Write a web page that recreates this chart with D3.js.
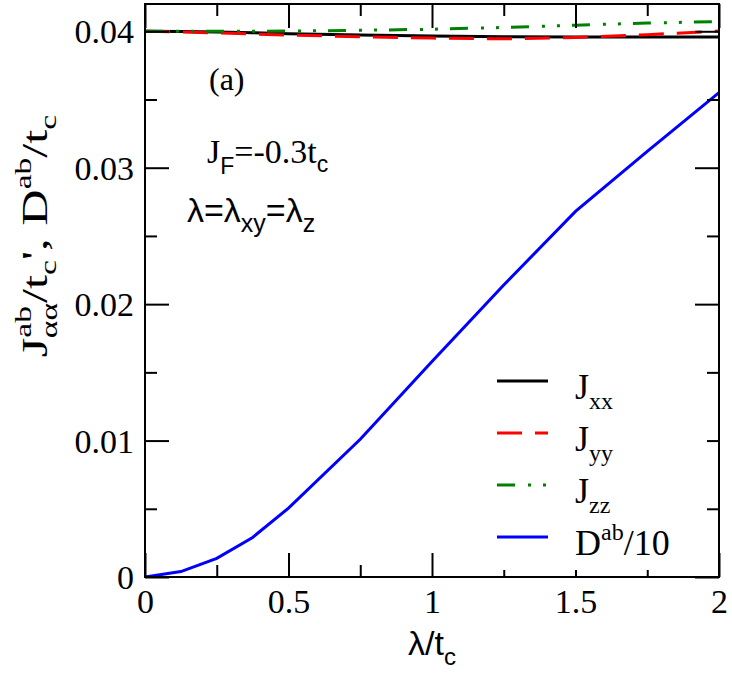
<!DOCTYPE html>
<html>
<head>
<meta charset="utf-8">
<script src="https://cdn.jsdelivr.net/npm/d3@7"></script>
<style>
body { margin: 0; background: #fff; }
</style>
</head>
<body>
<div id="chart"></div>
<script>
// lambda / t_c grid
var lambdaVals = [0, 0.125, 0.25, 0.375, 0.5, 0.75, 1.0, 1.25, 1.5, 1.75, 2.0];
// exchange couplings
var jxx = [0.0400, 0.03999, 0.03995, 0.03990, 0.03982, 0.03972, 0.03965, 0.03960, 0.03958, 0.03958, 0.03958];
var jyy = [0.0400, 0.03995, 0.03988, 0.03980, 0.03972, 0.03960, 0.03950, 0.03945, 0.03955, 0.03975, 0.04002];
var jzz = [0.0400, 0.04000, 0.04000, 0.04000, 0.04002, 0.04007, 0.04015, 0.04028, 0.04045, 0.04060, 0.04072];
// DM term divided by 10
var dab10 = [0, 0.0004, 0.00137, 0.0029, 0.00505, 0.0101, 0.0158, 0.0214, 0.0268, 0.0312, 0.0355];

var xMajor = [0, 0.5, 1, 1.5, 2];
var xMinor = [0.25, 0.75, 1.25, 1.75];
var yMajor = [0, 0.01, 0.02, 0.03, 0.04];
var yMinor = [0.005, 0.015, 0.025, 0.035];
var xLabels = ["0", "0.5", "1", "1.5", "2"];
var yLabels = ["0", "0.01", "0.02", "0.03", "0.04"];

var W = 732, H = 673;
var pL = 145, pR = 719, pT = 4, pB = 577;

var svg = d3.select("#chart").append("svg")
    .attr("width", W).attr("height", H)
    .style("font-family", "'Liberation Serif', 'Times New Roman', serif");

var x = d3.scaleLinear().domain([0, 2]).range([pL, pR]);
var y = d3.scaleLinear().domain([0, 0.042]).range([pB, pT]);

var series = [
    {name: "xx", vals: jxx, color: "#000000", dash: null},
    {name: "yy", vals: jyy, color: "#ff0000", dash: "25,13"},
    {name: "zz", vals: jzz, color: "#008000", dash: "18,13,3,12,3,12"},
    {name: "D", vals: dab10, color: "#0000ff", dash: null}
];

svg.append("clipPath").attr("id", "clip").append("rect")
    .attr("x", pL).attr("y", pT).attr("width", pR - pL).attr("height", pB - pT);

var line = d3.line()
    .x(function(d) { return x(d[0]); })
    .y(function(d) { return y(d[1]); });

var plot = svg.append("g").attr("clip-path", "url(#clip)");
series.forEach(function(s) {
    plot.append("path")
        .datum(lambdaVals.map(function(l, i) { return [l, s.vals[i]]; }))
        .attr("d", line)
        .attr("fill", "none")
        .attr("stroke", s.color)
        .attr("stroke-width", 3)
        .attr("stroke-dasharray", s.dash);
});

// axes: ticks pointing inward on all four sides
function styleAxis(g) {
    g.select(".domain").remove();
    g.selectAll(".tick line").attr("stroke", "#000").attr("stroke-width", 2);
    g.selectAll(".tick text").attr("fill", "#000").style("font-size", "34px")
        .style("font-family", "'Liberation Serif', serif");
}

var axB = svg.append("g").attr("transform", "translate(0," + pB + ")")
    .call(d3.axisBottom(x).tickValues(xMajor).tickSize(-24).tickPadding(10)
        .tickFormat(function(d, i) { return xLabels[i]; }));
styleAxis(axB);
axB.selectAll(".tick text").attr("dy", "0.75em");
svg.append("g").attr("transform", "translate(0," + pB + ")")
    .call(d3.axisBottom(x).tickValues(xMinor).tickSize(-12).tickFormat("")).call(styleAxis);
svg.append("g").attr("transform", "translate(0," + pT + ")")
    .call(d3.axisTop(x).tickValues(xMajor).tickSize(-24).tickFormat("")).call(styleAxis);
svg.append("g").attr("transform", "translate(0," + pT + ")")
    .call(d3.axisTop(x).tickValues(xMinor).tickSize(-12).tickFormat("")).call(styleAxis);

var axL = svg.append("g").attr("transform", "translate(" + pL + ",0)")
    .call(d3.axisLeft(y).tickValues(yMajor).tickSize(-24).tickPadding(11)
        .tickFormat(function(d, i) { return yLabels[i]; }));
styleAxis(axL);
axL.selectAll(".tick text").attr("dy", "0.34em");
svg.append("g").attr("transform", "translate(" + pL + ",0)")
    .call(d3.axisLeft(y).tickValues(yMinor).tickSize(-12).tickFormat("")).call(styleAxis);
svg.append("g").attr("transform", "translate(" + pR + ",0)")
    .call(d3.axisRight(y).tickValues(yMajor).tickSize(-24).tickFormat("")).call(styleAxis);
svg.append("g").attr("transform", "translate(" + pR + ",0)")
    .call(d3.axisRight(y).tickValues(yMinor).tickSize(-12).tickFormat("")).call(styleAxis);

// legend box (white, hides the ticks behind it)
var lg = {x0: 470, x1: 707, y0: 350, y1: 570, lx0: 497, lx1: 548, tx: 575, ys: [381, 433, 485, 537]};
svg.append("rect").attr("x", lg.x0).attr("y", lg.y0)
    .attr("width", lg.x1 - lg.x0).attr("height", lg.y1 - lg.y0).attr("fill", "#fff");

series.forEach(function(s, i) {
    var yy = lg.ys[i];
    svg.append("line").attr("x1", lg.lx0).attr("x2", lg.lx1).attr("y1", yy).attr("y2", yy)
        .attr("stroke", s.color).attr("stroke-width", 3)
        .attr("stroke-dasharray", s.dash);
    var t = svg.append("text").attr("x", lg.tx).attr("y", yy + 18).style("font-size", "36px");
    if (s.name === "D") {
        t.append("tspan").text("D");
        t.append("tspan").attr("dy", -15).style("font-size", "24px").text("ab");
        t.append("tspan").attr("dy", 15).text("/10");
    } else {
        t.append("tspan").text("J");
        t.append("tspan").attr("dy", 10).style("font-size", "24px").text(s.name);
    }
});

// frame
svg.append("rect").attr("x", pL).attr("y", pT)
    .attr("width", pR - pL).attr("height", pB - pT)
    .attr("fill", "none").attr("stroke", "#000").attr("stroke-width", 2);

// panel annotations
svg.append("text").attr("x", 209).attr("y", 90).style("font-size", "32px").text("(a)");

var jf = svg.append("text").attr("x", 207).attr("y", 163).style("font-size", "34px");
jf.append("tspan").text("J");
jf.append("tspan").attr("dy", 11).style("font-size", "23px")
    .style("font-family", "'Liberation Sans', sans-serif").text("F");
jf.append("tspan").attr("dy", -11).text("=-0.3t");
jf.append("tspan").attr("dy", 9).style("font-size", "23px")
    .style("font-family", "'Liberation Sans', sans-serif").text("c");

var lam = svg.append("text").attr("x", 187).attr("y", 222).style("font-size", "34px")
    .style("font-family", "'Liberation Sans', sans-serif");
lam.append("tspan").text("λ=λ");
lam.append("tspan").attr("dy", 10).style("font-size", "25px").text("xy");
lam.append("tspan").attr("dy", -10).text("=λ");
lam.append("tspan").attr("dy", 10).style("font-size", "25px").text("z");

// x axis title
var xt = svg.append("text").attr("x", 432).attr("y", 655).attr("text-anchor", "middle")
    .style("font-size", "34px").style("font-family", "'Liberation Sans', sans-serif");
xt.append("tspan").text("λ/t");
xt.append("tspan").attr("dy", 10).style("font-size", "24px").text("c");

// y axis title
var yt = svg.append("text").attr("transform", "translate(47,236) rotate(-90) scale(1.4,1)")
    .attr("text-anchor", "middle").style("font-size", "36px");
yt.append("tspan").text("J");
yt.append("tspan").attr("dy", -16).style("font-size", "24px").text("ab");
yt.append("tspan").attr("dx", -23).attr("dy", 26).style("font-size", "24px").text("αα");
yt.append("tspan").attr("dy", -10).text("/t");
yt.append("tspan").attr("dy", 9).style("font-size", "24px").text("c");
yt.append("tspan").attr("dy", -9).text("', D");
yt.append("tspan").attr("dy", -16).style("font-size", "24px").text("ab");
yt.append("tspan").attr("dy", 16).text("/t");
yt.append("tspan").attr("dy", 9).style("font-size", "24px").text("c");
</script>
</body>
</html>
